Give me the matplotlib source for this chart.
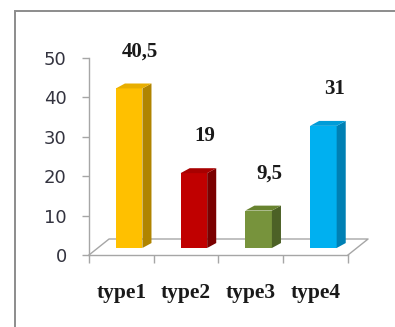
import numpy as np
import matplotlib.pyplot as plt
from matplotlib.patches import Polygon, Rectangle

categories = ["type1", "type2", "type3", "type4"]
values = [40.5, 19, 9.5, 31]
value_labels = ["40,5", "19", "9,5", "31"]
yticks = [0, 10, 20, 30, 40, 50]

front_colors = ["#FFC000", "#C00000", "#77933C", "#00B0F0"]
side_colors = ["#B08400", "#7A0000", "#4C6126", "#0080B4"]
top_colors = ["#E8AE00", "#A80000", "#68832F", "#009CD8"]


def main():
    fig = plt.figure(figsize=(3.95, 3.27), dpi=100)
    fig.patch.set_facecolor("white")

    # outer chart frame (runs off the right and bottom edges)
    fig.patches.append(Rectangle((15 / 395, -0.2), 1.2, 0.966 + 0.2,
                                 transform=fig.transFigure, fill=False,
                                 edgecolor="#8c8c8c", linewidth=1.4))

    ax = fig.add_axes([0.2253, 0.2202, 0.6557, 0.6024])
    ax.set_xlim(0, 4)
    ax.set_ylim(0, 50)
    ax.patch.set_alpha(0)

    # depth offsets of the pseudo-3D floor and bars (data units)
    floor_dx, floor_dy = 0.31, 4.06
    base = 1.78
    bar_w = 0.41
    shift = 0.12
    bar_dx, bar_dy = 0.14, 1.25

    axis_col = "#a6a6a6"
    # floor outline
    ax.plot([0, floor_dx, 4 + floor_dx, 4], [0, floor_dy, floor_dy, 0],
            color=axis_col, lw=1.0, clip_on=False, zorder=1)

    x = np.arange(len(categories)) + 0.5 + shift
    ax.bar(x, values, width=bar_w, bottom=base, color=front_colors,
           linewidth=0, zorder=3)
    for xi, v, sc, tc in zip(x, values, side_colors, top_colors):
        x0, x1 = xi - bar_w / 2, xi + bar_w / 2
        top = base + v
        ax.add_patch(Polygon([(x1, base), (x1 + bar_dx, base + bar_dy),
                              (x1 + bar_dx, top + bar_dy), (x1, top)],
                             closed=True, facecolor=sc, lw=0, zorder=3))
        ax.add_patch(Polygon([(x0, top), (x0 + bar_dx, top + bar_dy),
                              (x1 + bar_dx, top + bar_dy), (x1, top)],
                             closed=True, facecolor=tc, lw=0, zorder=3))

    for xi, v, lab in zip(x, values, value_labels):
        ax.text(xi + 0.17, v + base + 9.4, lab, ha="center", va="center",
                fontsize=15, fontweight="bold", family="Liberation Serif",
                color="#1a1a1a", clip_on=False)

    for side in ["top", "right"]:
        ax.spines[side].set_visible(False)
    for side in ["left", "bottom"]:
        ax.spines[side].set_color(axis_col)
        ax.spines[side].set_linewidth(1.0)

    ax.set_yticks(yticks)
    ax.set_yticklabels([str(t) for t in yticks], fontsize=13,
                       family="DejaVu Sans", color="#33333f")
    ax.tick_params(axis="y", length=5, width=1.0, color=axis_col, pad=11)

    ax.set_xticks(np.arange(len(categories) + 1))
    ax.set_xticklabels([])
    ax.tick_params(axis="x", which="major", length=6, width=1.0,
                   color=axis_col)
    ax.set_xticks(np.arange(len(categories)) + 0.5, minor=True)
    ax.set_xticklabels(categories, minor=True, fontsize=15.5,
                       fontweight="bold", family="Liberation Serif",
                       color="#1a1a1a")
    ax.tick_params(axis="x", which="minor", length=0, pad=20)

    fig.savefig("out.png", dpi=100)


if __name__ == "__main__":
    main()
